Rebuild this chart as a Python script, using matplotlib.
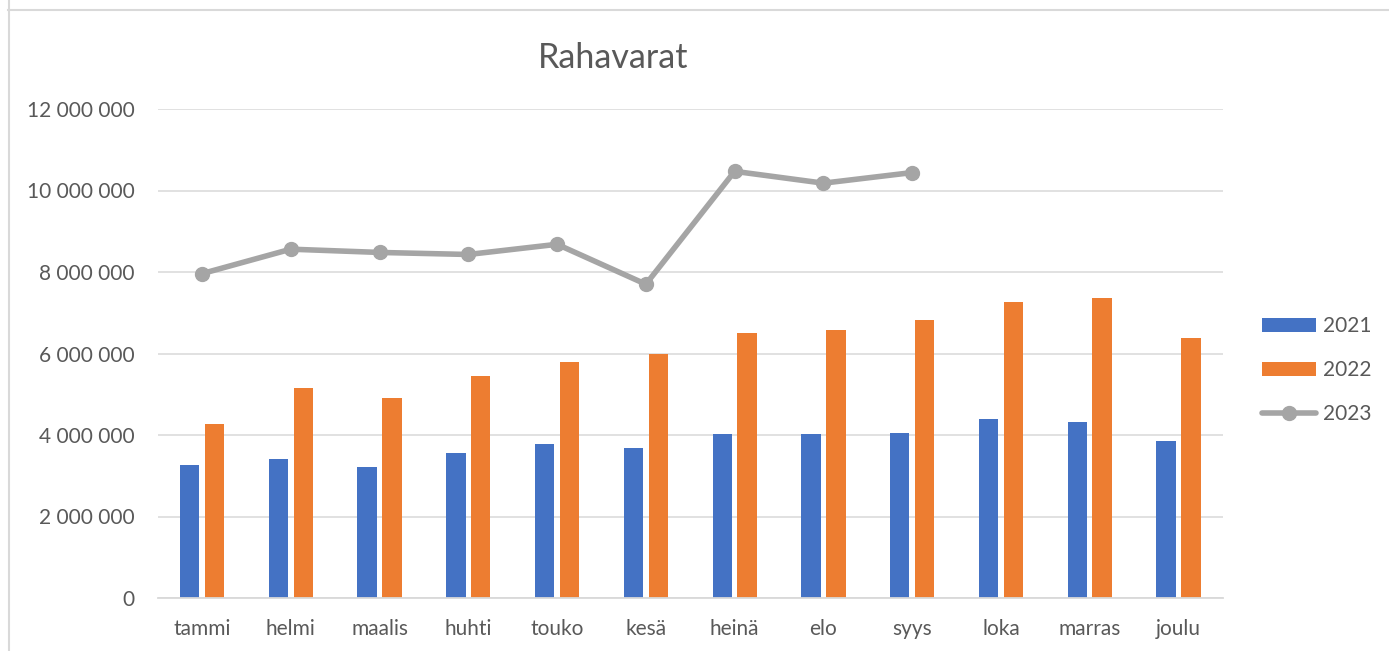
import matplotlib.pyplot as plt
from matplotlib.lines import Line2D
from matplotlib.ticker import FuncFormatter
import numpy as np

plt.rcParams['font.family'] = ['Lato', 'DejaVu Sans']

months = ["tammi", "helmi", "maalis", "huhti", "touko", "kesä",
          "heinä", "elo", "syys", "loka", "marras", "joulu"]
cash_2021 = [3270000, 3400000, 3210000, 3570000, 3770000, 3670000,
             4030000, 4020000, 4040000, 4390000, 4320000, 3850000]
cash_2022 = [4260000, 5150000, 4920000, 5450000, 5780000, 6000000,
             6500000, 6570000, 6810000, 7260000, 7360000, 6370000]
cash_2023 = [7960000, 8560000, 8480000, 8430000, 8680000, 7700000,
             10470000, 10180000, 10440000]

TEXT = "#595959"
GRID = "#D9D9D9"

W, H = 1389, 651
fig = plt.figure(figsize=(W / 100, H / 100), dpi=100)
fig.patch.set_facecolor("white")

# plot area in pixels: x 157.6..1222.9, y 109 (top) .. 598 (bottom)
ax = fig.add_axes([157.6 / W, 1 - 598 / H, (1222.9 - 157.6) / W, (598 - 109) / H])

x = np.arange(len(months))
bw = 0.218
b21 = ax.bar(x - 0.14, cash_2021, bw, color="#4472C4", label="2021", zorder=2)
b22 = ax.bar(x + 0.14, cash_2022, bw, color="#ED7D31", label="2022", zorder=2)
l23, = ax.plot(x[:len(cash_2023)], cash_2023, color="#A5A5A5", lw=4,
               marker="o", ms=10, label="2023", zorder=3, solid_capstyle="round")

ax.set_xlim(-0.5, len(months) - 0.5)
ax.set_ylim(0, 12000000)
ax.set_yticks(np.arange(0, 12000001, 2000000))
ax.yaxis.set_major_formatter(FuncFormatter(lambda v, p: f"{int(v):,}".replace(",", " ")))
ax.set_xticks(x)
ax.set_xticklabels(months)

ax.grid(axis="y", color=GRID, lw=1.1, zorder=0)
ax.set_axisbelow(True)
for s in ["top", "right", "left"]:
    ax.spines[s].set_visible(False)
ax.spines["bottom"].set_color(GRID)
ax.spines["bottom"].set_linewidth(1.3)
ax.tick_params(axis="both", length=0, labelsize=15, labelcolor=TEXT)
ax.tick_params(axis="y", pad=16.5)
ax.tick_params(axis="x", pad=15)

fig.text(613 / W, 1 - 68 / H, "Rahavarat", ha="center", va="baseline",
         fontsize=24.5, color=TEXT)

leg = fig.legend(handles=[b21, b22, l23], loc="center left",
                 bbox_to_anchor=(1262 / W, 1 - 370 / H), frameon=False,
                 fontsize=15, handlelength=2.6, handleheight=0.64,
                 handletextpad=0.35, labelspacing=1.15, borderpad=0,
                 borderaxespad=0)
for t in leg.get_texts():
    t.set_color(TEXT)

# chart frame edges visible in the screenshot
fig.add_artist(Line2D([8 / W, 1], [1 - 10 / H, 1 - 10 / H], color=GRID, lw=1.5,
                      transform=fig.transFigure))
fig.add_artist(Line2D([9 / W, 9 / W], [0, 1], color=GRID, lw=1.5,
                      transform=fig.transFigure))

fig.savefig("out.png", dpi=100)
